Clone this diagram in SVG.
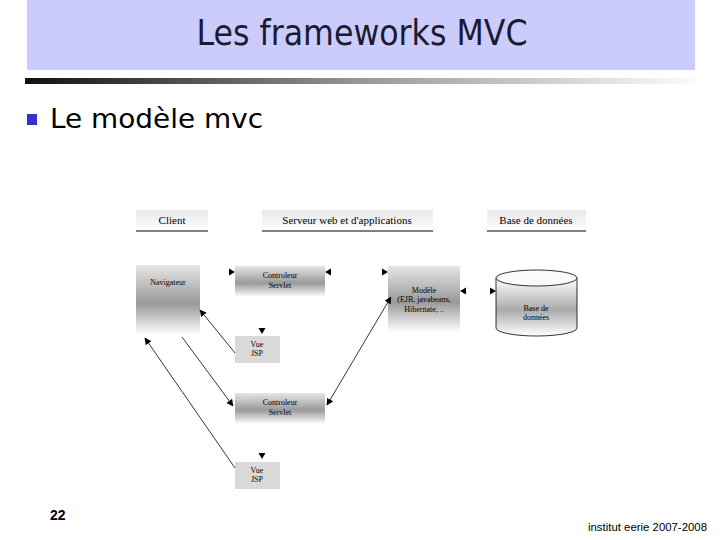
<svg xmlns="http://www.w3.org/2000/svg" width="720" height="540" viewBox="0 0 720 540">
<style>
.d{font-family:"Liberation Serif",serif;font-size:8px;fill:#000;text-anchor:middle}
.h{font-family:"Liberation Serif",serif;font-size:11px;fill:#000;text-anchor:middle}
.c{stroke:#000;stroke-width:0.8;fill:none}
</style>
<defs>
<linearGradient id="bar" x1="0" y1="0" x2="1" y2="0">
<stop offset="0" stop-color="#111"/><stop offset="0.5" stop-color="#999"/><stop offset="1" stop-color="#fff"/>
</linearGradient>
<linearGradient id="hdr" x1="0" y1="0" x2="0" y2="1">
<stop offset="0" stop-color="#e8e8e8"/><stop offset="1" stop-color="#fff"/>
</linearGradient>
<linearGradient id="box" x1="0" y1="0" x2="0" y2="1">
<stop offset="0" stop-color="#e6e6e6"/><stop offset="0.55" stop-color="#999"/><stop offset="1" stop-color="#fff"/>
</linearGradient>
<linearGradient id="cyl" x1="0" y1="0" x2="0" y2="1">
<stop offset="0" stop-color="#fff"/><stop offset="0.55" stop-color="#aaa"/><stop offset="1" stop-color="#fff"/>
</linearGradient>
<marker id="ah" viewBox="0 0 10 10" refX="9" refY="5" markerWidth="7" markerHeight="7" orient="auto" markerUnits="userSpaceOnUse">
<path d="M0,0 L10,5 L0,10 z" fill="#000"/>
</marker>
<marker id="as" viewBox="0 0 10 10" refX="1" refY="5" markerWidth="7" markerHeight="7" orient="auto-start-reverse" markerUnits="userSpaceOnUse">
<path d="M0,0 L10,5 L0,10 z" fill="#000"/>
</marker>
<path id="tri" d="M-3,-3.5 L3,0 L-3,3.5 z" fill="#000"/>
</defs>
<rect width="720" height="540" fill="#fff"/>
<g id="title">
<rect x="27" y="0" width="668" height="70" fill="#ccccfc"/>
<text x="362" y="45" font-family="DejaVu Sans,sans-serif" font-size="35" fill="#1a1a33" text-anchor="middle" textLength="331" lengthAdjust="spacingAndGlyphs">Les frameworks MVC</text>
<rect x="25" y="78" width="680" height="6" fill="url(#bar)"/>
</g>
<g id="bullet">
<rect x="27" y="114" width="10" height="11" fill="#3333cc"/>
<text x="50" y="128" font-family="DejaVu Sans,sans-serif" font-size="27" fill="#000" textLength="213" lengthAdjust="spacingAndGlyphs">Le modèle mvc</text>
</g>
<g id="hdr-client"><rect x="136" y="210" width="72" height="21" fill="url(#hdr)"/><line x1="136" y1="231" x2="208" y2="231" stroke="#000"/><text class="h" x="172" y="224">Client</text></g>
<g id="hdr-serveur"><rect x="262" y="210" width="171" height="21" fill="url(#hdr)"/><line x1="262" y1="231" x2="433" y2="231" stroke="#000"/><text class="h" x="347" y="224">Serveur web et d'applications</text></g>
<g id="hdr-bd"><rect x="487" y="210" width="99" height="21" fill="url(#hdr)"/><line x1="487" y1="231" x2="586" y2="231" stroke="#000"/><text class="h" x="536" y="224">Base de données</text></g>
<g id="navigateur"><rect x="136" y="265" width="64" height="70" fill="url(#box)"/><text class="d" x="168" y="285">Navigateur</text></g>
<g id="controleur1"><rect x="235" y="266" width="90" height="31" fill="url(#box)"/><text class="d" x="280" y="278">Controleur</text><text class="d" x="280" y="288">Servlet</text></g>
<g id="modele"><rect x="388" y="266" width="72" height="66" fill="url(#box)"/><text class="d" x="424" y="293">Modèle</text><text class="d" x="424" y="302">(EJB, javabeans,</text><text class="d" x="424" y="312">Hibernate, ..</text></g>
<g id="bd"><path d="M496,278 L496,328 A40.5,8 0 0 0 577,328 L577,278" fill="url(#cyl)" stroke="#000" stroke-width="0.8"/><ellipse cx="536.5" cy="278" rx="40.5" ry="8" fill="#fafafa" stroke="#000" stroke-width="0.8"/><text class="d" x="536" y="311">Base de</text><text class="d" x="536" y="320">données</text></g>
<g id="vue1"><rect x="235" y="336" width="45" height="27" fill="#d9d9d9"/><text class="d" x="257" y="347">Vue</text><text class="d" x="257" y="356">JSP</text></g>
<g id="controleur2"><rect x="235" y="393" width="90" height="31" fill="url(#box)"/><text class="d" x="280" y="405">Controleur</text><text class="d" x="280" y="415">Servlet</text></g>
<g id="vue2"><rect x="235" y="462" width="45" height="27" fill="#d9d9d9"/><text class="d" x="257" y="473">Vue</text><text class="d" x="257" y="482">JSP</text></g>
<g id="connectors">
<use href="#tri" x="232" y="272"/>
<use href="#tri" x="328" y="272" transform="rotate(180 328 272)"/>
<use href="#tri" x="385" y="272"/>
<use href="#tri" x="463" y="291" transform="rotate(180 463 291)"/>
<use href="#tri" x="493" y="291"/>
<use href="#tri" x="262" y="331" transform="rotate(90 262 331)"/>
<use href="#tri" x="262" y="456" transform="rotate(90 262 456)"/>
<line class="c" x1="235" y1="353" x2="200" y2="310" marker-end="url(#ah)"/>
<line class="c" x1="182" y1="337" x2="233" y2="406" marker-end="url(#ah)"/>
<line class="c" x1="235" y1="468" x2="145" y2="338" marker-end="url(#ah)"/>
<line class="c" x1="388" y1="302" x2="327" y2="405" marker-start="url(#as)" marker-end="url(#ah)"/>
</g>
<g id="footer">
<text x="50" y="520" font-family="Liberation Sans,sans-serif" font-size="14" font-weight="bold" fill="#000">22</text>
<text x="588" y="531" font-family="Liberation Sans,sans-serif" font-size="10.5" fill="#000" textLength="119" lengthAdjust="spacingAndGlyphs">institut eerie 2007-2008</text>
</g>
</svg>
